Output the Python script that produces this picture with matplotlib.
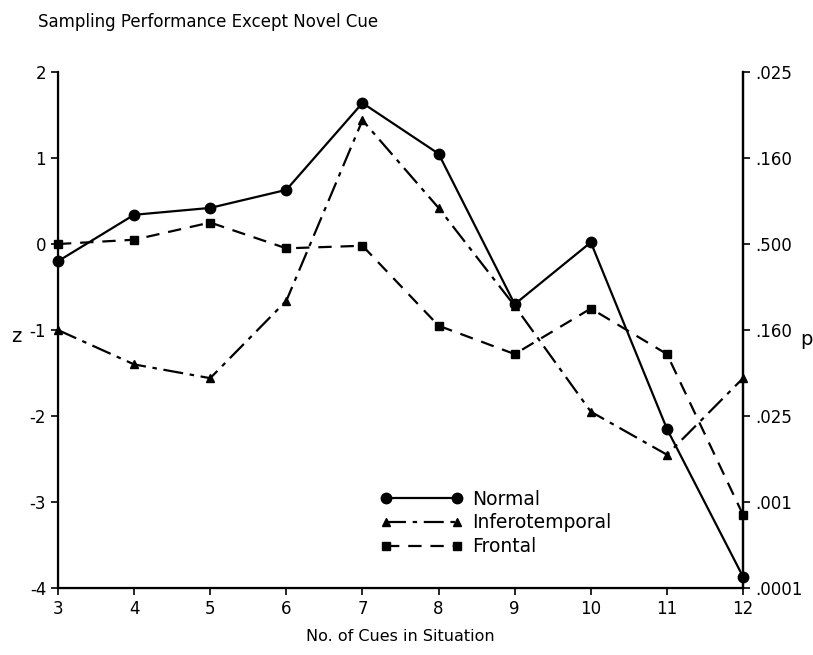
import matplotlib
matplotlib.use("Agg")
import matplotlib.pyplot as plt

# number of cues in the situation
cues = [3, 4, 5, 6, 7, 8, 9, 10, 11, 12]

# z scores per group
normal = [-0.2, 0.34, 0.42, 0.63, 1.64, 1.05, -0.7, 0.02, -2.15, -3.87]
inferotemporal = [-1.0, -1.4, -1.56, -0.66, 1.44, 0.42, -0.72, -1.95, -2.45, -1.56]
frontal = [0.0, 0.05, 0.25, -0.05, -0.02, -0.95, -1.28, -0.75, -1.28, -3.15]

z_ticks = [2, 1, 0, -1, -2, -3, -4]
p_labels = [".025", ".160", ".500", ".160", ".025", ".001", ".0001"]

plt.rcParams['font.family'] = ['DejaVu Sans']

fig = plt.figure(figsize=(8.13, 6.55), dpi=100)
ax = fig.add_axes([0.0713, 0.1023, 0.8427, 0.7877])

ax.plot(cues, normal, color='black', linestyle='-', linewidth=1.6,
        marker='o', markersize=7.5, clip_on=False, label='Normal')
ax.plot(cues, inferotemporal, color='black', linestyle=(0, (9, 3, 2, 3)),
        linewidth=1.6, marker='^', markersize=6, clip_on=False,
        label='Inferotemporal')
ax.plot(cues, frontal, color='black', linestyle=(0, (6, 4)), linewidth=1.6,
        marker='s', markersize=5.5, clip_on=False, label='Frontal')

ax.set_xlim(3, 12)
ax.set_ylim(-4, 2)
ax.set_xticks(cues)
ax.set_yticks(z_ticks)
ax.set_yticklabels([str(t) for t in z_ticks])
ax.tick_params(axis='both', direction='out', length=5, width=1.2,
               labelsize=12, colors='black')
ax.spines['top'].set_visible(False)
for side in ['left', 'right', 'bottom']:
    ax.spines[side].set_linewidth(1.6)

# right-hand p scale
ax2 = ax.twinx()
ax2.set_ylim(-4, 2)
ax2.set_yticks(z_ticks)
ax2.set_yticklabels(p_labels)
ax2.tick_params(axis='y', direction='out', length=5, width=1.2, labelsize=12)
ax2.spines['top'].set_visible(False)
ax2.spines['right'].set_linewidth(1.6)

fig.text(0.02, 0.487, "z", fontsize=14, ha='center', va='center')
fig.text(0.992, 0.482, "p", fontsize=14, ha='center', va='center')
fig.text(0.047, 0.966, "Sampling Performance Except Novel Cue", fontsize=12,
         ha='left', va='center')
ax.set_xlabel("No. of Cues in Situation", fontsize=11.5, labelpad=8)

leg = ax.legend(loc='upper left', bbox_to_anchor=(0.46, 0.205), frameon=False,
                numpoints=2, handlelength=4.4, handletextpad=0.5,
                labelspacing=0.25, fontsize=13.5, borderaxespad=0)

fig.savefig("out.png", dpi=100)
